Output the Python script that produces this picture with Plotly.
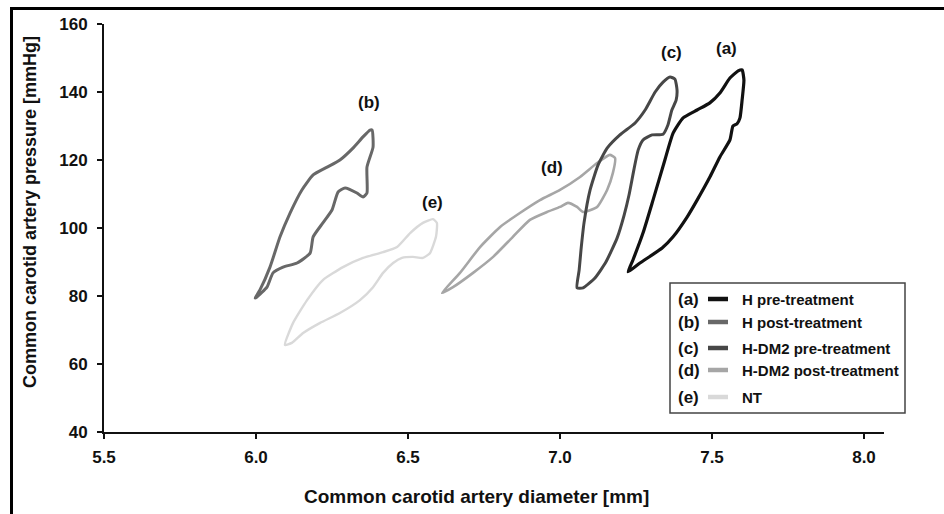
import plotly.graph_objects as go

# ---------------- data (diameter [mm], pressure [mmHg]) ----------------
a_x = [7.224, 7.240, 7.273, 7.306, 7.345, 7.372, 7.405, 7.451, 7.493, 7.526, 7.559, 7.586, 7.599,
       7.605, 7.599, 7.592, 7.582, 7.569, 7.559, 7.526, 7.493, 7.451, 7.418, 7.372, 7.336, 7.263, 7.224]
a_y = [87.1, 90.6, 98.5, 108.2, 120.0, 127.9, 132.4, 134.7, 136.8, 139.7, 144.1, 146.2, 146.5,
       143.5, 137.6, 132.4, 130.6, 130.0, 125.9, 120.9, 115.0, 108.2, 103.2, 97.4, 94.1, 89.7, 87.1]

b_x = [5.997, 6.013, 6.046, 6.079, 6.112, 6.151, 6.188, 6.234, 6.276, 6.319, 6.352, 6.375, 6.382,
       6.385, 6.365, 6.365, 6.352, 6.332, 6.293, 6.270, 6.250, 6.220, 6.188, 6.178, 6.135, 6.089,
       6.056, 6.036, 6.003, 5.997]
b_y = [79.4, 81.8, 88.5, 97.4, 104.4, 111.2, 115.6, 117.9, 120.0, 123.5, 126.8, 128.8, 128.8,
       123.8, 117.9, 110.3, 109.1, 110.3, 111.8, 110.6, 105.3, 101.5, 97.4, 92.6, 89.7, 88.5,
       86.8, 82.6, 79.7, 79.4]

c_x = [7.056, 7.063, 7.069, 7.079, 7.099, 7.125, 7.155, 7.197, 7.247, 7.280, 7.313, 7.339, 7.362,
       7.378, 7.385, 7.382, 7.368, 7.355, 7.339, 7.303, 7.273, 7.257, 7.243, 7.227, 7.211, 7.188,
       7.151, 7.115, 7.076, 7.056]
c_y = [82.4, 87.6, 93.5, 101.5, 111.2, 118.5, 123.5, 127.4, 130.9, 134.7, 140.0, 142.9, 144.4,
       143.8, 140.6, 137.6, 134.7, 130.3, 127.6, 127.4, 125.9, 122.9, 117.1, 109.7, 103.8, 97.1,
       90.0, 85.3, 82.4, 82.4]

d_x = [6.612, 6.671, 6.737, 6.803, 6.868, 6.934, 7.000, 7.066, 7.122, 7.164, 7.181, 7.174, 7.155,
       7.122, 7.076, 7.056, 7.026, 7.000, 6.957, 6.901, 6.845, 6.780, 6.714, 6.648, 6.612]
d_y = [80.9, 86.8, 94.4, 100.3, 104.4, 108.2, 111.2, 115.0, 119.1, 121.5, 120.6, 116.2, 111.2,
       106.2, 104.7, 106.2, 107.4, 106.2, 104.7, 102.4, 97.4, 91.5, 86.8, 82.6, 80.9]

e_x = [6.095, 6.122, 6.168, 6.220, 6.286, 6.352, 6.418, 6.464, 6.507, 6.549, 6.582, 6.595, 6.592,
       6.572, 6.549, 6.516, 6.480, 6.451, 6.418, 6.385, 6.342, 6.276, 6.211, 6.155, 6.118, 6.095]
e_y = [65.6, 72.1, 78.8, 84.7, 88.5, 91.2, 92.9, 94.4, 98.5, 101.5, 102.6, 101.5, 97.4,
       92.6, 91.2, 91.5, 91.2, 89.7, 86.8, 82.6, 78.8, 75.0, 72.1, 69.1, 66.2, 65.6]

series_keys = ["(a)", "(b)", "(c)", "(d)", "(e)"]
series_names = ["H pre-treatment", "H post-treatment", "H-DM2 pre-treatment",
                "H-DM2 post-treatment", "NT"]
series_x = [a_x, b_x, c_x, d_x, e_x]
series_y = [a_y, b_y, c_y, d_y, e_y]
label_x = [7.549, 6.372, 7.368, 6.974, 6.579]
label_y = [152.9, 136.8, 151.5, 117.9, 107.6]

x_ticks = [5.5, 6.0, 6.5, 7.0, 7.5, 8.0]
x_ticktext = ["5.5", "6.0", "6.5", "7.0", "7.5", "8.0"]
y_ticks = [40, 60, 80, 100, 120, 140, 160]

colors = ["#111111", "#686868", "#474747", "#a6a6a6", "#d9d9d9"]
widths = [3.2, 3.0, 3.0, 2.6, 2.4]

# ---------------- layout geometry ----------------
W, H = 944, 514
ML, MR, MT, MB = 104, 60, 24, 82
PW, PH = W - ML - MR, H - MT - MB


def px(xp):
    return (xp - ML) / PW


def py(yp):
    return (H - MB - yp) / PH


FONT = "Liberation Sans, Arial, sans-serif"

fig = go.Figure()
# draw lighter loops first
for i in [4, 3, 1, 2, 0]:
    fig.add_trace(go.Scatter(x=series_x[i], y=series_y[i], mode="lines",
                             line=dict(color=colors[i], width=widths[i], shape="spline",
                                       smoothing=0.5),
                             name=series_names[i], showlegend=False, hoverinfo="skip"))

annotations = []
for k, lx, ly in zip(series_keys, label_x, label_y):
    annotations.append(dict(x=lx, y=ly, xref="x", yref="y", text=k, showarrow=False,
                            xanchor="center", yanchor="middle",
                            font=dict(family=FONT, size=17, color="#111", weight="bold")))

# axis titles
annotations.append(dict(x=px(30), y=py(212), xref="paper", yref="paper", textangle=-90,
                        xanchor="center", yanchor="middle",
                        text="Common carotid artery pressure [mmHg]", showarrow=False,
                        font=dict(family=FONT, size=18, color="#111", weight="bold")))
annotations.append(dict(x=px(476), y=py(497), xref="paper", yref="paper",
                        xanchor="center", yanchor="middle",
                        text="Common carotid artery diameter [mm]", showarrow=False,
                        font=dict(family=FONT, size=19, color="#111", weight="bold")))

shapes = []
# outer frame (left and top only)
shapes.append(dict(type="line", xref="paper", yref="paper", x0=px(11.5), x1=px(11.5),
                   y0=py(7), y1=py(530), line=dict(color="#000", width=3)))
shapes.append(dict(type="line", xref="paper", yref="paper", x0=px(10), x1=px(960),
                   y0=py(8.5), y1=py(8.5), line=dict(color="#000", width=3)))

# manual legend
shapes.append(dict(type="rect", xref="paper", yref="paper", x0=px(670), x1=px(905),
                   y0=py(413), y1=py(283), line=dict(color="#444", width=1.5),
                   fillcolor="white", layer="above"))
legend_rows = [299, 322, 348, 370, 397]
for i, ry in enumerate(legend_rows):
    shapes.append(dict(type="line", xref="paper", yref="paper", x0=px(708), x1=px(728),
                       y0=py(ry), y1=py(ry), line=dict(color=colors[i], width=4.5)))
    annotations.append(dict(x=px(676), y=py(ry), xref="paper", yref="paper",
                            text=series_keys[i], showarrow=False, xanchor="left",
                            yanchor="middle",
                            font=dict(family=FONT, size=17, color="#111", weight="bold")))
    annotations.append(dict(x=px(740), y=py(ry), xref="paper", yref="paper",
                            text=series_names[i], showarrow=False, xanchor="left",
                            yanchor="middle",
                            font=dict(family=FONT, size=15, color="#111", weight="bold")))

fig.update_layout(
    width=W, height=H, margin=dict(l=ML, r=MR, t=MT, b=MB, pad=0),
    paper_bgcolor="white", plot_bgcolor="white", showlegend=False,
    annotations=annotations, shapes=shapes,
    xaxis=dict(range=[5.5, 5.5 + PW / 304.0], tickvals=x_ticks, ticktext=x_ticktext,
               showgrid=False, zeroline=False, showline=True, linecolor="#111", linewidth=2,
               ticks="outside", ticklen=5, tickwidth=2, tickcolor="#111",
               tickfont=dict(family=FONT, size=17, color="#111", weight="bold"),
               ticklabelstandoff=4),
    yaxis=dict(range=[40, 160], tickvals=y_ticks,
               showgrid=False, zeroline=False, showline=True, linecolor="#111", linewidth=2,
               ticks="outside", ticklen=5, tickwidth=2, tickcolor="#111",
               tickfont=dict(family=FONT, size=17, color="#111", weight="bold"),
               ticklabelstandoff=6),
)

fig.write_html("out.html")
